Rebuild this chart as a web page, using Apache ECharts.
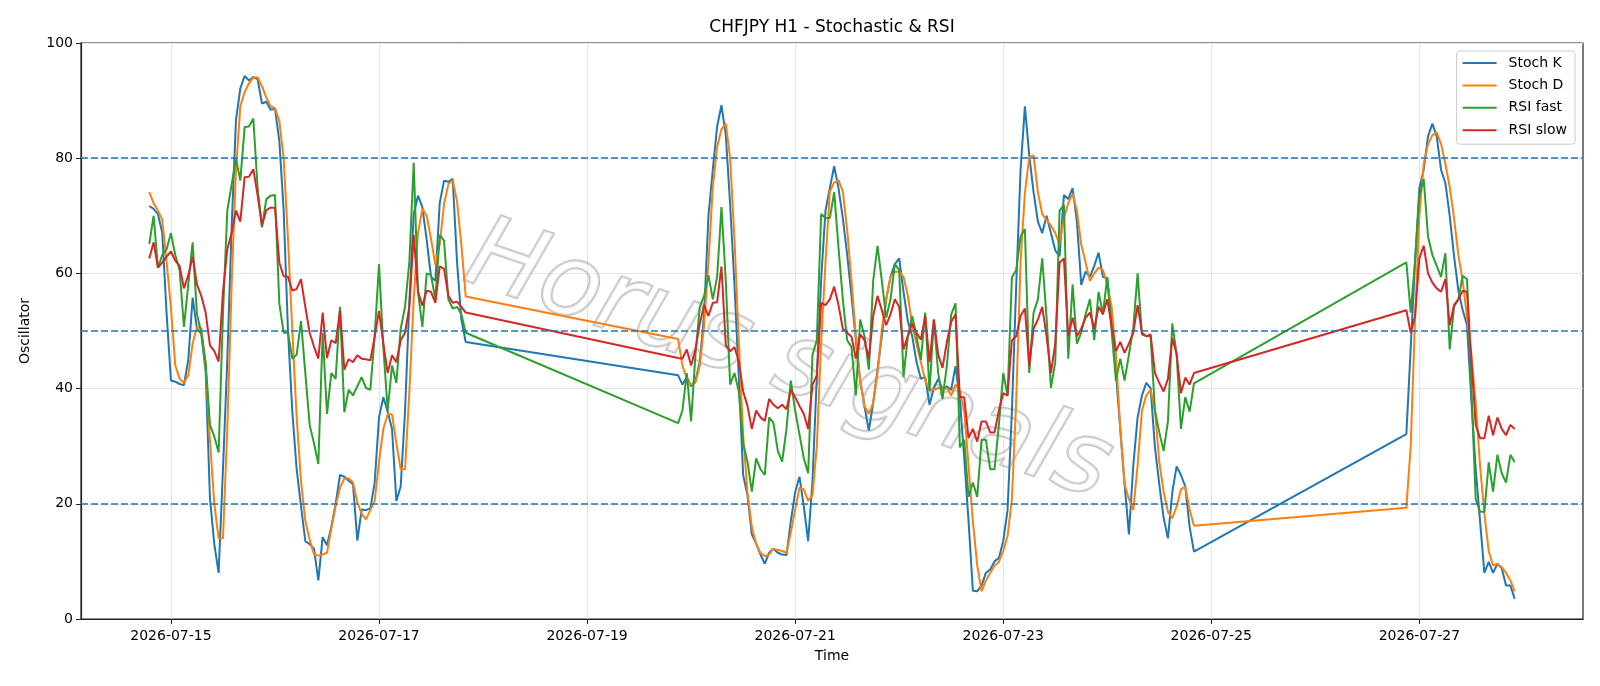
<!DOCTYPE html>
<html>
<head>
<meta charset="utf-8">
<title>CHFJPY H1 - Stochastic & RSI</title>
<script src="https://cdn.jsdelivr.net/npm/echarts@6/dist/echarts.min.js"></script>
<style>
  html, body { margin: 0; padding: 0; background: #fff; }
  #main { width: 1600px; height: 686px; }
</style>
</head>
<body>
<div id="main"></div>
<script type="text/javascript">
// hourly bars, three trading blocks separated by weekends
var segStarts = ['2026-07-14T19:00:00Z', '2026-07-19T21:00:00Z', '2026-07-26T21:00:00Z'];
var segLengths = [74, 120, 26];

var stochK = [
  // 07-14 19:00 .. 07-17 20:00
  71.7, 71.2, 70.3, 67.0, 53, 41.4, 41.2, 40.8, 40.6, 45, 55.8, 50.4, 49.5, 43, 21, 13, 8, 26, 45, 68,
  86.6, 92.1, 94.3, 93.5, 94.1, 93.7, 89.5, 89.8, 88.4, 88.6, 83, 71, 50, 36, 26, 19.6, 13.5, 13, 12.2, 6.7,
  14.2, 12.8, 16, 20, 25, 24.7, 24, 23.4, 13.6, 19, 18.9, 19.2, 23.7, 35, 38.5, 36, 33, 20.5, 23, 36,
  55, 70.3, 73.5, 71.5, 65.8, 59.4, 58.7, 72.2, 76.1, 75.9, 76.4, 62, 52, 48.1,
  // 07-19 21:00 .. 07-24 20:00
  42.3, 40.7, 42, 40.4, 41.4, 44.6, 53, 70, 78, 85.5,
  89.2, 84, 72, 58, 42, 25, 21.5, 14.7, 13.1, 11.2,
  9.6, 11.5, 12.2, 11.5, 11.2, 11.1, 17, 22, 24.7, 19.5,
  13.5, 24, 42, 59, 70.9, 74.8, 78.6, 74.8, 69.6, 63.2,
  56.1, 48.4, 41.4, 36.9, 32.7, 37.5, 43.3, 49.1, 55.5, 59.4,
  61.6, 62.6, 56.8, 51.7, 49.1, 44.6, 41.7, 42, 37.2, 40.1,
  41.7, 39.8, 40.4, 39.8, 43.9, 38, 28, 17, 4.9, 4.8,
  5.8, 8, 8.6, 10, 10.6, 13.5, 18.9, 36, 58, 78,
  89, 80.5, 74.1, 69, 67, 70, 67, 64, 63, 73.6,
  72.9, 74.8, 69, 58, 60.3, 59.4, 61.3, 63.6, 59.4, 59.1,
  52, 42.7, 33, 23.4, 14.7, 26.6, 35, 38.8, 41, 40.1,
  29.8, 23.4, 17.6, 14, 22, 26.5, 25, 23, 16, 11.7,
  // 07-26 21:00 .. 07-27 22:00
  32.1, 47, 62, 74.8, 78, 83.8, 86, 83.8, 78, 75.7, 70, 63, 57, 53.6, 51, 38, 26, 17, 8, 9.9,
  8, 9.6, 8.8, 5.8, 5.8, 3.5
];

var stochD = [
  74.1, 72.2, 70.9, 69.3, 62, 54, 44, 41.7, 41, 42.3, 47.8, 50.7, 50.5, 44, 31, 20, 14, 14, 33, 58,
  78, 89, 91.5, 93, 94, 94, 92.5, 90.5, 89, 88.7, 86.5, 80, 66, 50, 35, 24, 17, 13.8, 11.2, 11,
  11.2, 11.5, 15.7, 19.6, 22.8, 24.4, 24.4, 23.7, 20.2, 18.3, 17.3, 18.9, 20.5, 27.3, 33, 35.6, 35.5, 30.5, 26, 26,
  39.4, 55.5, 67, 71.2, 70, 66, 61.5, 65, 72, 75.5, 76.2, 72.5, 65, 56,
  48.6, 44, 41.7, 40.7, 41, 44, 51, 62, 75, 82,
  85, 86, 80, 66, 48, 32, 22, 16, 13, 11.5,
  10.9, 11.2, 12.2, 12, 11.8, 11.5, 15, 19, 22.8, 22.5,
  20.5, 21.5, 30, 48, 62, 74.2, 75.8, 76.2, 74.2, 67.5,
  58.7, 49.1, 41.4, 36.9, 35.6, 37.5, 42.7, 50.4, 55.5, 59.4,
  60.3, 60.3, 59.4, 56.1, 51, 47.8, 44.6, 41.4, 39.8, 39.8,
  40.1, 39.8, 40.1, 38.8, 40.7, 39.5, 36.2, 26.6, 17, 9.3,
  4.8, 6.7, 8, 9.3, 9.9, 11.8, 14.4, 20.8, 38, 62,
  74, 80.2, 80.5, 74.1, 70.3, 69.3, 68.3, 67, 65.1, 69.6,
  72.2, 73.8, 70.9, 65, 61.9, 58.7, 60, 61, 60.6, 58.1,
  54.2, 45.9, 33, 23.4, 20.8, 18.9, 26.6, 36.2, 38.8, 39.8,
  36.2, 27.3, 22.1, 18.6, 17.5, 19.5, 22.5, 23, 19, 16.2,
  19.3, 30, 52, 70, 79, 82.4, 84, 84.5, 82.5, 79, 75, 69.6, 63.2, 58.7, 52.3, 45.9, 37.5, 26.6, 18.3, 11.8,
  9.3, 9.6, 9.0, 8, 6.7, 4.8
];

var rsiFast = [
  65.1, 70, 61, 63.2, 64.2, 67, 63.2, 60.6, 50.7, 58.1, 65.4, 52.9, 49.7, 44.6, 33.7, 31.7, 28.9, 52.9, 70.9, 75.4,
  79.9, 76.1, 85.4, 85.5, 86.9, 74.7, 68, 72.9, 73.5, 73.6, 54.8, 49.7, 49.7, 45.2, 45.9, 51.7, 42.7, 33.7, 30.5, 26.9,
  49.7, 35.6, 42.7, 41.7, 54.2, 35.9, 39.8, 38.8, 40.4, 42, 40.1, 39.8, 49.1, 61.6, 47.2, 36.2, 44, 41, 50.4, 54.2,
  62, 79.2, 56.8, 50.7, 60, 59.7, 55.5, 66.7, 65.7, 55.5, 53.9, 54.2, 52.9, 49.7,
  34, 36.2, 42.7, 34.3, 45.9, 54.2, 56.1, 59.7, 55.5, 59.4,
  71.5, 58.7, 40.7, 42.7, 39.5, 30.5, 27.3, 22.1, 27.9, 26,
  25, 35, 34, 29.2, 27.3, 33, 41.4, 36.2, 32, 27.9,
  25.3, 45.9, 48.4, 70.3, 69.6, 69.6, 74.1, 64.5, 55.5, 48.4,
  47.2, 38.8, 52, 49.1, 43.3, 58.7, 64.8, 58.7, 52.3, 55.5,
  61.6, 60.6, 42, 49.1, 52.6, 49.1, 45, 53.2, 39.5, 52,
  42.7, 38.2, 44, 52.9, 54.8, 29.8, 31.1, 21.2, 23.7, 21.2,
  31.1, 31.1, 26, 26, 33.7, 42.7, 38.8, 59.3, 60.6, 66.4,
  67.7, 42.7, 53.2, 55.5, 62.6, 52.3, 40.1, 44.6, 70.9, 71.9,
  45.2, 58.1, 47.8, 49.7, 52.9, 55.5, 48.4, 56.8, 52.9, 59.4,
  50, 41.4, 45.2, 41.4, 45.9, 50.4, 60, 49.4, 49.1, 49.1,
  36.2, 32.4, 29.2, 34.3, 51.3, 46, 33, 38.5, 36, 40.9,
  61.9, 53.2, 62, 73.5, 76.4, 66.4, 63.2, 61.3, 59.4, 63.5, 46.8, 54.2, 55.5, 59.6, 59, 40, 20.8, 18.6, 18.6, 27.2,
  22.1, 28.5, 25.3, 23.7, 28.5, 27.2
];

var rsiSlow = [
  62.6, 65.4, 61, 61.9, 62.9, 63.8, 62.2, 61.3, 57.4, 59.7, 62.9, 58.1, 56.1, 53.2, 47.5, 46.5, 44.7, 56.8, 64.2, 67,
  70.9, 69, 76.7, 76.8, 78.1, 73.5, 68.3, 71, 71.4, 71.4, 61.9, 59.5, 59.4, 57, 57.3, 59, 54.2, 49.7, 47.3, 45.2,
  53.2, 45.3, 48.4, 47.9, 53.6, 43.3, 45.1, 44.6, 45.8, 45.2, 45.1, 44.9, 49, 53.5, 47.8, 42.7, 45.8, 44.6, 48.4, 49.7,
  54.2, 66.7, 56.8, 54.4, 57, 56.8, 54.9, 61.2, 60.8, 56.1, 54.9, 55.1, 54.2, 53.2,
  45.3, 45.2, 46.8, 44, 46.8, 51.3, 54.5, 52.6, 54.9, 55,
  61.2, 47.5, 46.5, 47.2, 44.8, 39.5, 37, 33, 36.2, 35,
  34.4, 38.2, 37.2, 36.6, 37.2, 36.4, 39.8, 38.5, 37, 35.6,
  33, 40.7, 42.3, 54.9, 54.5, 55.5, 57.7, 54.5, 50.4, 49.7,
  49, 45.2, 49.4, 48.4, 45.2, 52.6, 56.1, 53.6, 51, 52.9,
  55.5, 54.2, 46.8, 49.1, 51.3, 49.7, 48.5, 52.6, 44.6, 52,
  45.9, 43.6, 48.1, 51.6, 52.9, 38.5, 38.5, 31.4, 33, 30.8,
  34.3, 34.3, 32.4, 32.4, 36.2, 39.2, 38.8, 48.4, 49.1, 52.6,
  53.9, 44, 50.4, 52, 54.2, 49.1, 42.7, 47.8, 61.9, 62.6,
  49.1, 52.3, 49.1, 50.4, 52.3, 53.2, 50.4, 54.2, 52.9, 55.5,
  51, 46.5, 48.1, 46.2, 47.8, 49.7, 54.5, 49.7, 49.1, 49.4,
  42.7, 41, 39.5, 41.7, 48.8, 46, 39.2, 41.9, 40.7, 42.7,
  53.6, 49.7, 52.5, 62.6, 64.8, 60, 58.4, 57.4, 56.8, 59, 51, 54.5, 55.5, 57, 56.8, 45, 33.7, 31.4, 31.4, 35.3,
  31.9, 35, 33, 31.9, 33.7, 33
];

var levels = [20, 50, 80];
var dayTicks = ['2026-07-15', '2026-07-17', '2026-07-19', '2026-07-21', '2026-07-23', '2026-07-25', '2026-07-27'];
var xMin = '2026-07-14T03:15:00Z';
var xMax = '2026-07-28T13:45:00Z';

var times = [];
segStarts.forEach(function (s, i) {
  var t0 = Date.parse(s);
  for (var j = 0; j < segLengths[i]; j++) times.push(t0 + j * 3600000);
});
function pairs(vals) {
  return vals.map(function (v, i) { return [times[i], v]; });
}
function pad(n) { return n < 10 ? '0' + n : '' + n; }
function fmtDay(v) {
  var d = new Date(v);
  return d.getUTCFullYear() + '-' + pad(d.getUTCMonth() + 1) + '-' + pad(d.getUTCDate());
}
var tickValues = dayTicks.map(function (d) { return Date.parse(d + 'T00:00:00Z'); });

var font = 'DejaVu Sans';
function lineSeries(name, color, vals) {
  return {
    name: name,
    type: 'line',
    data: pairs(vals),
    symbol: 'none',
    lineStyle: { color: color, width: 2 },
    itemStyle: { color: color },
    z: 3
  };
}

var series = [
  lineSeries('Stoch K', '#1f77b4', stochK),
  lineSeries('Stoch D', '#ff7f0e', stochD),
  lineSeries('RSI fast', '#2ca02c', rsiFast),
  lineSeries('RSI slow', '#d62728', rsiSlow)
];
series[0].markLine = {
  silent: true,
  symbol: 'none',
  label: { show: false },
  lineStyle: { color: '#1f77b4', type: [7, 3], width: 1.5 },
  data: levels.map(function (v) { return { yAxis: v }; })
};

var myChart = echarts.init(document.getElementById('main'));
var option = {
  animation: false,
  backgroundColor: '#fff',
  title: {
    text: 'CHFJPY H1 - Stochastic & RSI',
    left: 827,
    top: 14,
    textAlign: 'center',
    textStyle: { fontFamily: font, fontSize: 17, fontWeight: 'normal', color: '#000' }
  },
  legend: {
    orient: 'vertical',
    right: 25,
    top: 51,
    backgroundColor: 'rgba(255,255,255,0.85)',
    borderColor: '#cccccc',
    borderWidth: 1,
    borderRadius: 3,
    padding: [5, 8, 7, 5],
    itemWidth: 34,
    itemHeight: 14,
    itemGap: 8.4,
    itemStyle: { opacity: 0 },
    lineStyle: { width: 2 },
    textStyle: { fontFamily: font, fontSize: 14, color: '#000', padding: [0, 0, 0, 7] },
    data: ['Stoch K', 'Stoch D', 'RSI fast', 'RSI slow']
  },
  grid: {
    left: 81, right: 17, top: 43, bottom: 67,
    show: true, borderColor: '#222', borderWidth: 1.2, backgroundColor: 'transparent'
  },
  xAxis: {
    type: 'value',
    min: Date.parse(xMin),
    max: Date.parse(xMax),
    name: 'Time',
    nameLocation: 'middle',
    nameGap: 30,
    nameTextStyle: { fontFamily: font, fontSize: 14, color: '#000' },
    axisLine: { lineStyle: { color: '#222', width: 1.2 } },
    axisTick: { show: true, length: 5, lineStyle: { color: '#222' }, customValues: tickValues },
    axisLabel: {
      customValues: tickValues,
      formatter: function (v) { return fmtDay(v); },
      fontFamily: font, fontSize: 14, color: '#000', margin: 10
    },
    splitLine: { show: true, lineStyle: { color: '#e5e5e5', width: 1 } }
  },
  yAxis: {
    type: 'value',
    min: 0,
    max: 100,
    interval: 20,
    name: 'Oscillator',
    nameLocation: 'middle',
    nameGap: 49,
    nameRotate: 90,
    nameTextStyle: { fontFamily: font, fontSize: 14, color: '#000' },
    axisLine: { show: true, lineStyle: { color: '#222', width: 1.2 } },
    axisTick: { show: true, length: 5, lineStyle: { color: '#222' } },
    axisLabel: { fontFamily: font, fontSize: 14, color: '#000', margin: 8 },
    splitLine: { show: true, lineStyle: { color: '#e5e5e5', width: 1 } }
  },
  graphic: [{
    type: 'text',
    x: 788,
    y: 364,
    rotation: -19 * Math.PI / 180,
    z: 1,
    silent: true,
    style: {
      text: 'Horus signals',
      fontFamily: font,
      fontSize: 100,
      fontStyle: 'italic',
      fill: 'rgba(255,255,255,0.4)',
      stroke: 'rgba(150,150,150,0.55)',
      lineWidth: 2.5,
      align: 'center',
      verticalAlign: 'middle',
      textAlign: 'center',
      textVerticalAlign: 'middle',
      shadowColor: 'rgba(0,0,0,0.2)',
      shadowBlur: 2,
      shadowOffsetX: 3,
      shadowOffsetY: 3
    }
  }],
  series: series
};
myChart.setOption(option);
</script>
</body>
</html>
